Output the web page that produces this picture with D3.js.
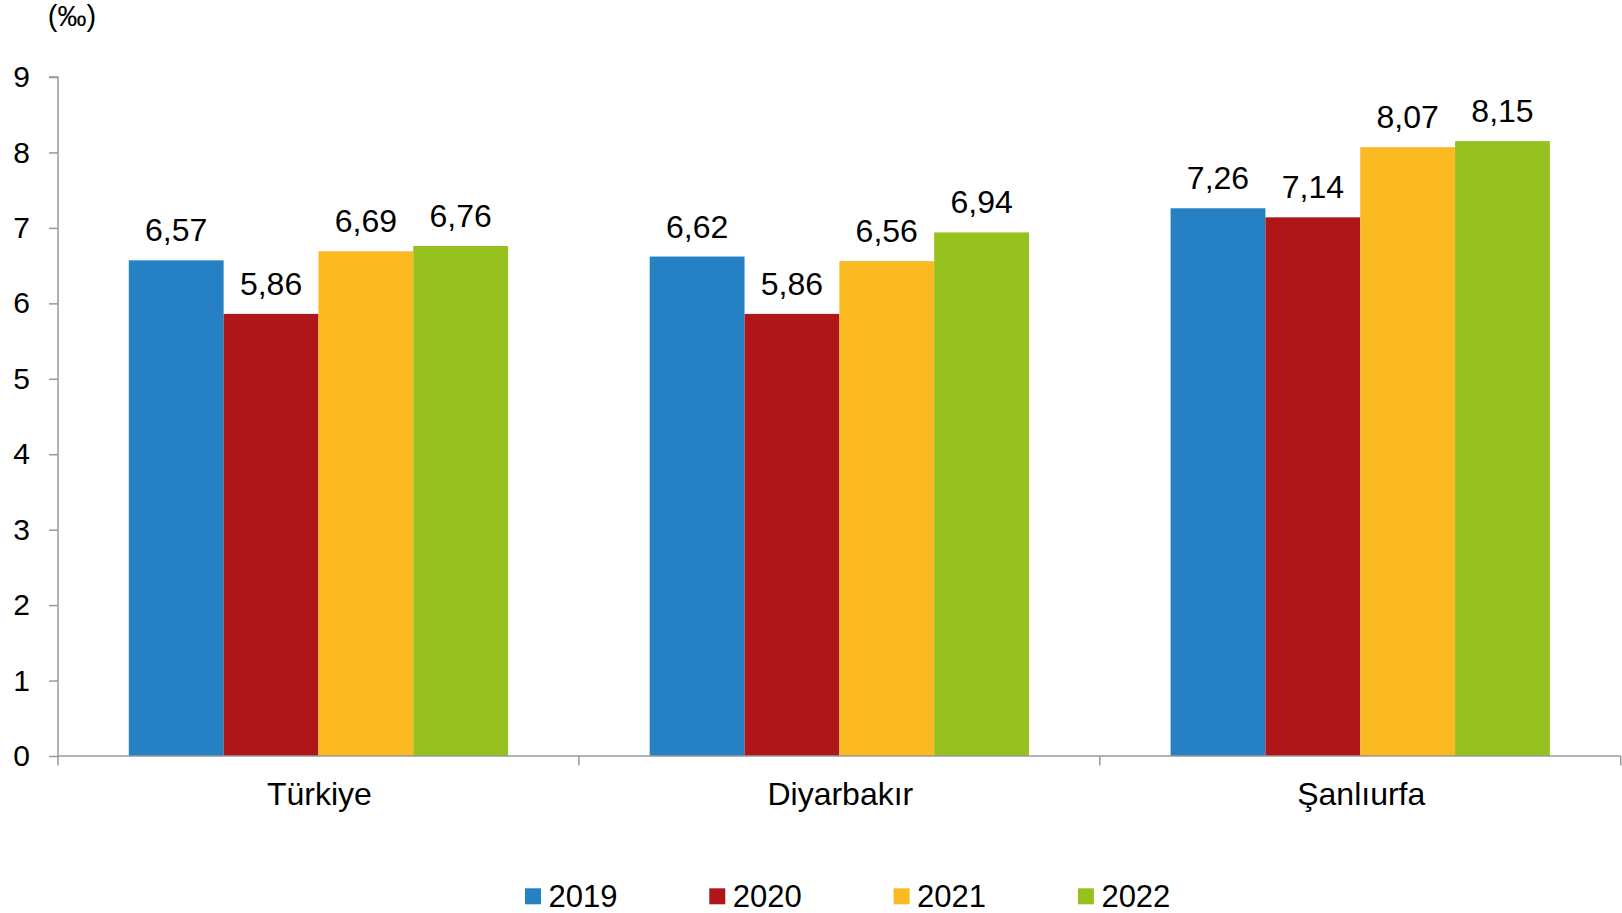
<!DOCTYPE html>
<html><head><meta charset="utf-8">
<script src="https://cdn.jsdelivr.net/npm/d3@7"></script>
<style>body{margin:0;background:#fff}svg{display:block;font-family:"Liberation Sans",Arial,sans-serif}</style>
</head><body>
<svg id="c" width="1622" height="913"></svg>
<script>
const categories = ["Türkiye", "Diyarbakır", "Şanlıurfa"];
const years = ["2019", "2020", "2021", "2022"];
const v2019 = [6.57, 6.62, 7.26];
const v2020 = [5.86, 5.86, 7.14];
const v2021 = [6.69, 6.56, 8.07];
const v2022 = [6.76, 6.94, 8.15];
const colors = ["#2680C4", "#AE1619", "#FBB922", "#97C11F"];
const yTicks = [0,1,2,3,4,5,6,7,8,9];
const unitLabel = "(‰)";

(function(){
const series = [v2019, v2020, v2021, v2022];
const svg = d3.select("#c");
const mLeft = 58, mRight = 1620.7, mTop = 77, mBottom = 756;
const x0 = d3.scaleBand().domain(categories).range([mLeft, mRight]).paddingInner(0).paddingOuter(0);
const groupPad = 70.8;
const x1 = d3.scaleBand().domain(years).range([groupPad, x0.bandwidth() - groupPad]).padding(0);
const y = d3.scaleLinear().domain([0, 9]).range([mBottom, mTop]);
const fmt = v => d3.format(".2f")(v).replace(".", ",");

// bars
categories.forEach((c, ci) => {
  const g = svg.append("g").attr("transform", `translate(${x0(c)},0)`);
  years.forEach((yr, si) => {
    const v = series[si][ci];
    g.append("rect").attr("x", x1(yr)).attr("y", y(v)).attr("width", x1.bandwidth()).attr("height", y(0) - y(v)).attr("fill", colors[si]);
    g.append("text").attr("x", x1(yr) + x1.bandwidth()/2).attr("y", y(v) - 19).attr("text-anchor", "middle")
      .attr("font-size", 32).attr("fill", "#000").text(fmt(v));
  });
});

// y axis
const yAxis = d3.axisLeft(y).tickValues(yTicks).tickSize(9).tickPadding(19).tickFormat(d3.format("d"));
const ya = svg.append("g").attr("transform", `translate(${mLeft},0)`).call(yAxis);
ya.selectAll("path,line").attr("stroke", "#999").attr("stroke-width", 1.5);
ya.select(".domain").attr("d", `M-9,${mTop}H0V${mBottom}`);
ya.selectAll("text").attr("font-size", 30).attr("fill", "#000").attr("font-family", "Liberation Sans, Arial, sans-serif");

// x axis
const xa = svg.append("g").attr("transform", `translate(0,${mBottom})`);
xa.append("line").attr("x1", mLeft).attr("x2", mRight).attr("y1", 0).attr("y2", 0).attr("stroke", "#999").attr("stroke-width", 1.5);
const bounds = categories.map(c => x0(c)).concat([mRight]);
xa.selectAll("line.tk").data(bounds).join("line").attr("class","tk")
  .attr("x1", d => d).attr("x2", d => d).attr("y1", 0).attr("y2", 9.5).attr("stroke", "#999").attr("stroke-width", 1.5);
xa.selectAll("text.cat").data(categories).join("text").attr("class","cat")
  .attr("x", d => x0(d) + x0.bandwidth()/2 + 1).attr("y", 48.5).attr("text-anchor","middle")
  .attr("font-size", 32).attr("fill","#000").text(d => d);

// unit label
svg.append("text").attr("x", 72).attr("y", 26).attr("text-anchor","middle").attr("font-size", 29).attr("fill","#000").text(unitLabel);

// legend
const lg = svg.append("g");
years.forEach((yr, i) => {
  const lx = 525 + i * 184.3;
  lg.append("rect").attr("x", lx).attr("y", 888.3).attr("width", 16).attr("height", 16).attr("fill", colors[i]);
  lg.append("text").attr("x", lx + 23.5).attr("y", 907).attr("font-size", 31).attr("fill","#000").text(yr);
});
})();
</script>
</body></html>
